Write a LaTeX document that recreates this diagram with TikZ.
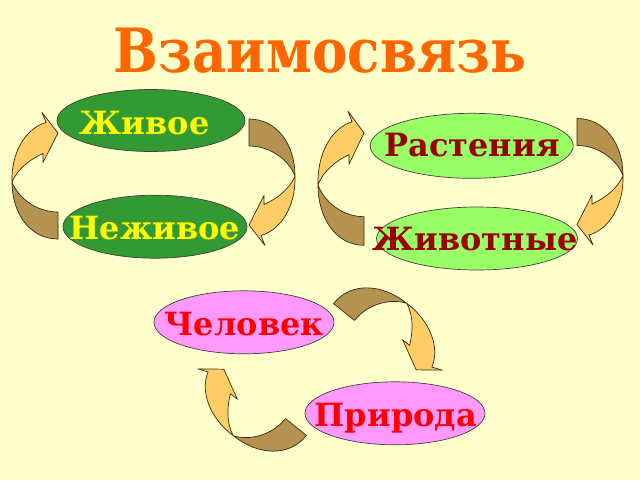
\documentclass[tikz,border=0pt]{standalone}
\usepackage{fontspec}
\setmainfont{DejaVu Serif}
\usetikzlibrary{shapes.geometric}
\definecolor{bgc}{HTML}{FFFFCC}
\definecolor{titlec}{HTML}{FF6600}
\definecolor{dgreen}{HTML}{339933}
\definecolor{lgreen}{HTML}{99FF66}
\definecolor{pinkc}{HTML}{FF99FF}
\definecolor{yellowc}{HTML}{FFFF00}
\definecolor{maroonc}{HTML}{990000}
\definecolor{redc}{HTML}{FF0000}
\definecolor{arrdarkc}{HTML}{B69250}
\definecolor{arrlightc}{HTML}{FFCC66}
\definecolor{edgec}{HTML}{3A2A10}
\tikzset{
  arrdark/.style={fill=arrdarkc, draw=edgec, line width=0.7pt, line join=round},
  arrlight/.style={fill=arrlightc, draw=edgec, line width=0.7pt, line join=round},
  oval/.style={ellipse, draw=black!75, line width=0.7pt, inner sep=0pt},
  word/.style={anchor=base, inner sep=0pt, font=\bfseries\fontsize{32}{37}\selectfont},
  curvarr/.pic={
    \filldraw[arrdark] (0,13.5) .. controls (-28,13.5) and (-46,-12) .. (-46,-43.5)
       .. controls (-40,-28) and (-22,-13.5) .. (0,-13.5) -- cycle;
    \filldraw[arrlight] (-46,-43.5) .. controls (-47,-72) and (-33,-97) .. (-12,-103)
       -- (-16,-113) -- (0,-92.5) -- (-15,-63) -- (-15,-72)
       .. controls (-26,-67) and (-40,-58) .. (-46,-43.5) -- cycle;
  }
}
\begin{document}
\begin{tikzpicture}[x=1pt,y=-1pt]
\fill[bgc] (0,0) rectangle (640,480);
\useasboundingbox (0,0) rectangle (640,480);

\node[anchor=base, inner sep=0pt, text=titlec, font=\bfseries\fontsize{61}{70}\selectfont] (title) at (320,72) {\scalebox{0.87}[1]{Взаимосвязь}};

% ellipses
\node[oval, fill=dgreen, minimum width=188pt, minimum height=62pt] (zh) at (151,120.5) {};
\node[oval, fill=dgreen, minimum width=184pt, minimum height=63pt] (nezh) at (155,226.7) {};
\node[oval, fill=lgreen, minimum width=203pt, minimum height=65pt] (rast) at (471.7,145.8) {};
\node[oval, fill=lgreen, minimum width=201pt, minimum height=63pt] (zhiv) at (477,238.5) {};
\node[oval, fill=pinkc, minimum width=180pt, minimum height=63pt] (chel) at (244,322.3) {};
\node[oval, fill=pinkc, minimum width=180pt, minimum height=63pt] (prir) at (395,413.3) {};

% words
\node[word, text=yellowc] (zhT) at (144.7,134) {Живое};
\node[word, text=yellowc] (nezhT) at (154.7,239) {Неживое};
\node[word, text=maroonc] (rastT) at (472,156.7) {Растения};
\node[word, text=maroonc] (zhivT) at (475,250) {Животные};
\node[word, text=redc] (chelT) at (244.3,335) {Человек};
\node[word, text=redc] (prirT) at (395.8,426.7) {Природа};

% curved arrows
\path (58,225.5) pic {curvarr};
\path (249,132.5) pic[rotate=180] {curvarr};
\path (364,231) pic[yscale=1.06] {curvarr};
\path (577,132) pic[rotate=180] {curvarr};
\path (344,312) pic[rotate=-128.7] {curvarr};
\path (296,427) pic[rotate=51.3] {curvarr};
\end{tikzpicture}
\end{document}
